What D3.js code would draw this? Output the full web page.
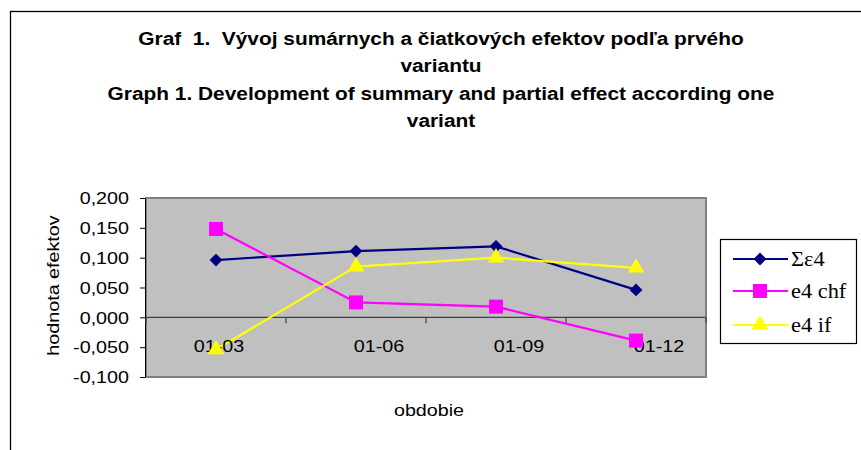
<!DOCTYPE html>
<html>
<head>
<meta charset="utf-8">
<script src="https://cdn.jsdelivr.net/npm/d3@7"></script>
<style>
  html, body { margin: 0; padding: 0; background: #fff; }
  svg { display: block; }
  text { white-space: pre; }
</style>
</head>
<body>
<svg id="chart" width="861" height="450"></svg>
<script>
// ---- data ----
const categories = ["01-03", "01-06", "01-09", "01-12"];
const sumE4  = [0.096, 0.111, 0.119, 0.046];
const e4chf  = [0.148, 0.025, 0.018, -0.039];
const e4if   = [-0.054, 0.085, 0.100, 0.083];
const seriesNames = ["\u03A3\u03B54", "e4 chf", "e4 if"];
const yTicks = [-0.1, -0.05, 0, 0.05, 0.1, 0.15, 0.2];
const titleLines = [
  "Graf  1.  Vývoj sumárnych a čiatkových efektov podľa prvého",
  "variantu",
  "Graph 1. Development of summary and partial effect according one",
  "variant"
];

// ---- layout ----
const svg = d3.select("#chart");
const L = 146, R = 706, T = 198, B = 377;
const SX = 1.16;               // horizontal stretch of the original rendering
const SANS = "Liberation Sans, Arial, sans-serif";
const SERIF = "Liberation Serif, Times New Roman, serif";
const labelDx = [3, 23, 23, 23];

const x = d3.scaleBand().domain(categories).range([L, R]);
const y = d3.scaleLinear().domain([-0.1, 0.2]).range([B, T]);
const loc = d3.formatLocale({decimal: ",", thousands: " ", grouping: [3], currency: ["", ""], minus: "-"});
const fmt = loc.format(".3f");

function sText(parent, px, py, str, size, anchor, family, weight, sx) {
  return parent.append("text")
    .attr("transform", `translate(${px},${py}) scale(${sx || SX},1)`)
    .attr("text-anchor", anchor || "middle")
    .attr("font-family", family || SANS)
    .attr("font-weight", weight || "normal")
    .attr("font-size", size)
    .attr("fill", "#000")
    .text(str);
}

// outer frame
svg.append("rect").attr("x", 10.5).attr("y", 11.5).attr("width", 900).attr("height", 500)
  .attr("fill", "#fff").attr("stroke", "#000").attr("stroke-width", 1.3);

// title
const tY = [45, 72, 100, 127];
titleLines.forEach((t, i) => sText(svg, 441, tY[i], t, 18, "middle", SANS, "bold"));

// plot area
svg.append("rect").attr("x", L).attr("y", T).attr("width", R - L).attr("height", B - T)
  .attr("fill", "#C0C0C0").attr("stroke", "#808080").attr("stroke-width", 2);

// y axis
const yAxis = svg.append("g").attr("transform", `translate(${L - 1},0)`)
  .call(d3.axisLeft(y).tickValues(yTicks).tickFormat(fmt).tickSize(5).tickSizeOuter(0));
yAxis.select(".domain").attr("stroke", "#000");
yAxis.selectAll(".tick line").attr("stroke", "#000");
yAxis.selectAll(".tick text")
  .attr("font-family", SANS).attr("font-size", 17).attr("fill", "#000")
  .attr("x", 0).attr("dy", "0.34em")
  .attr("transform", `translate(-16,0) scale(${SX},1)`);

// zero line (category axis)
const zeroY = y(0);
svg.append("line").attr("x1", L).attr("x2", R).attr("y1", zeroY).attr("y2", zeroY)
  .attr("stroke", "#404040").attr("stroke-width", 1.2);
const boundaries = categories.map(c => x(c)).concat([x(categories[categories.length - 1]) + x.bandwidth()]);
svg.selectAll(".xtick").data(boundaries).enter().append("line")
  .attr("x1", d => d).attr("x2", d => d).attr("y1", zeroY).attr("y2", zeroY + 6)
  .attr("stroke", "#404040").attr("stroke-width", 1.2);

// axis titles
svg.append("text")
  .attr("transform", `translate(59,${(T + B) / 2 - 2}) rotate(-90) scale(${SX},1)`)
  .attr("text-anchor", "middle").attr("font-family", SANS).attr("font-size", 17)
  .text("hodnota efektov");
sText(svg, 429, 416, "obdobie", 17);

// series
const cx = c => x(c) + x.bandwidth() / 2;
const series = [
  {name: seriesNames[0], values: sumE4, color: "#000080", marker: "diamond"},
  {name: seriesNames[1], values: e4chf, color: "#FF00FF", marker: "square"},
  {name: seriesNames[2], values: e4if,  color: "#FFFF00", marker: "triangle"}
];
const sym = {
  diamond: d3.symbol().type(d3.symbolDiamond2).size(105),
  square: d3.symbol().type(d3.symbolSquare).size(196),
  triangle: d3.symbol().type(d3.symbolTriangle).size(120)
};
const line = d3.line().x((d, i) => cx(categories[i])).y(d => y(d));

series.forEach(s => {
  svg.append("path").attr("d", line(s.values)).attr("fill", "none")
    .attr("stroke", s.color).attr("stroke-width", 2.2);
});
// category labels
categories.forEach((c, i) => sText(svg, cx(c) + labelDx[i], zeroY + 35, c, 17));
series.forEach(s => {
  svg.selectAll(null).data(s.values).enter().append("path")
    .attr("d", sym[s.marker])
    .attr("transform", (d, i) => `translate(${cx(categories[i])},${y(d)})`)
    .attr("fill", s.color);
});

// legend
const lg = svg.append("g");
lg.append("rect").attr("x", 720.5).attr("y", 239.5).attr("width", 136).attr("height", 104)
  .attr("fill", "#fff").attr("stroke", "#000").attr("stroke-width", 1.2);
const legY = [259, 291, 325];
series.forEach((s, i) => {
  const g = lg.append("g").attr("transform", `translate(0,${legY[i]})`);
  g.append("line").attr("x1", 733).attr("x2", 788).attr("y1", 0).attr("y2", 0)
    .attr("stroke", s.color).attr("stroke-width", 2.2);
  g.append("path").attr("d", sym[s.marker]).attr("transform", "translate(760,0)").attr("fill", s.color);
  sText(g, 791, 7, s.name, 20, "start", SERIF, "normal", 1.12);
});
</script>
</body>
</html>
